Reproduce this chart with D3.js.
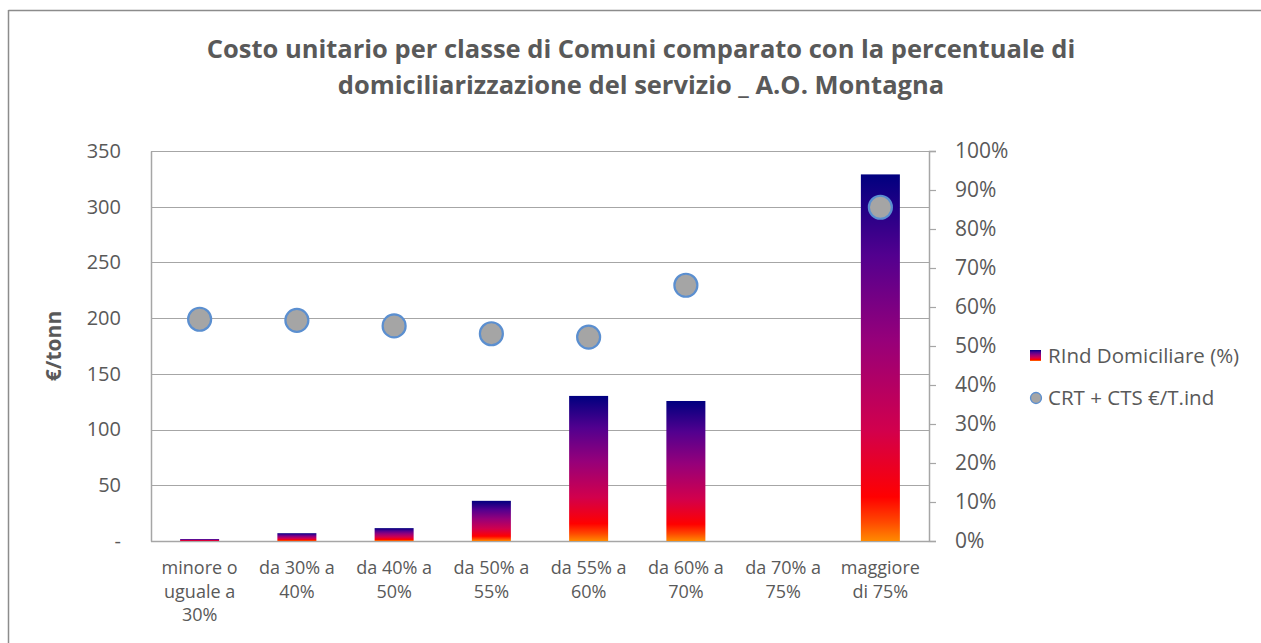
<!DOCTYPE html>
<html>
<head>
<meta charset="utf-8">
<script src="https://cdn.jsdelivr.net/npm/d3@7"></script>
<style>
  html, body { margin: 0; padding: 0; background: #fff; }
  svg { display: block; }
  text { font-family: "Open Sans", "Noto Sans", sans-serif; fill: #595959; }
</style>
</head>
<body>
<svg id="chart" width="1261" height="643"></svg>
<script>
// Municipality classes by share of door-to-door collection
const categories = [
  ["minore o", "uguale a", "30%"],
  ["da 30% a", "40%"],
  ["da 40% a", "50%"],
  ["da 50% a", "55%"],
  ["da 55% a", "60%"],
  ["da 60% a", "70%"],
  ["da 70% a", "75%"],
  ["maggiore", "di 75%"]
];
// RInd Domiciliare (%) — bars on the right axis
const domiciliare = [0.5, 2.0, 3.3, 10.3, 37.2, 35.9, 0, 94.0];
// CRT + CTS €/T.ind — points on the left axis (null = no data)
const costo = [199, 198, 193, 186, 183, 229.5, null, 299.5];

const leftTicks = [0, 50, 100, 150, 200, 250, 300, 350];
const rightTicks = [0, 10, 20, 30, 40, 50, 60, 70, 80, 90, 100];

const titleLines = [
  "Costo unitario per classe di Comuni comparato con la percentuale di",
  "domiciliarizzazione  del servizio _ A.O. Montagna"
];
const seriesNames = ["RInd Domiciliare (%)", "CRT + CTS €/T.ind"];

const svg = d3.select("#chart");
const plot = { left: 151, right: 929, top: 151, bottom: 541 };

// chart frame (top and left edges)
svg.append("line").attr("x1", 8.5).attr("x2", 1261).attr("y1", 10.5).attr("y2", 10.5)
  .attr("stroke", "#8c8c8c").attr("stroke-width", 1.5);
svg.append("line").attr("x1", 8.5).attr("x2", 8.5).attr("y1", 10).attr("y2", 643)
  .attr("stroke", "#8c8c8c").attr("stroke-width", 1.5);

// gradient for the bars
const defs = svg.append("defs");
const grad = defs.append("linearGradient").attr("id", "fire")
  .attr("x1", 0).attr("y1", 1).attr("x2", 0).attr("y2", 0);
[
  [0.00, "#ff8a00"],
  [0.05, "#ff4a00"],
  [0.12, "#ff0000"],
  [0.30, "#d2004c"],
  [0.55, "#96007a"],
  [0.78, "#52008f"],
  [1.00, "#00007f"]
].forEach(([o, c]) => grad.append("stop").attr("offset", o).attr("stop-color", c));

const x = d3.scaleBand().domain(d3.range(categories.length))
  .range([plot.left, plot.right]).paddingInner(0).paddingOuter(0);
const yL = d3.scaleLinear().domain([0, 350]).range([plot.bottom, plot.top]);
const yR = d3.scaleLinear().domain([0, 100]).range([plot.bottom, plot.top]);

// gridlines
svg.append("g").selectAll("line").data(leftTicks.slice(1)).join("line")
  .attr("x1", plot.left).attr("x2", plot.right)
  .attr("y1", d => Math.round(yL(d)) + 0.5).attr("y2", d => Math.round(yL(d)) + 0.5)
  .attr("stroke", "#a6a6a6").attr("stroke-width", 1.2);

// left axis
const axL = svg.append("g").attr("transform", `translate(${plot.left},0)`)
  .call(d3.axisLeft(yL).tickValues(leftTicks).tickSize(0).tickPadding(30)
    .tickFormat(d => d === 0 ? "-" : d));
axL.select(".domain").attr("stroke", "#a6a6a6").attr("stroke-width", 1.5);
axL.selectAll("text").style("font-size", "20px").attr("fill", "#595959")
  .style("font-family", "'Open Sans', sans-serif");

// right axis
const axR = svg.append("g").attr("transform", `translate(${plot.right},0)`)
  .call(d3.axisRight(yR).tickValues(rightTicks).tickSize(7).tickPadding(19)
    .tickFormat(d => d + "%"));
axR.select(".domain").attr("stroke", "#a6a6a6").attr("stroke-width", 1.5);
axR.selectAll(".tick line").attr("stroke", "#a6a6a6").attr("stroke-width", 1.2);
axR.selectAll("text").style("font-size", "21px").attr("fill", "#595959")
  .style("font-family", "'Open Sans', sans-serif");

// bottom axis line
svg.append("line").attr("x1", plot.left).attr("x2", plot.right)
  .attr("y1", plot.bottom + 0.5).attr("y2", plot.bottom + 0.5)
  .attr("stroke", "#a6a6a6").attr("stroke-width", 1.5);

// bars
const barW = 39;
svg.append("g").selectAll("rect")
  .data(domiciliare.map((v, i) => ({ v, i })).filter(d => d.v > 0)).join("rect")
  .attr("x", d => x(d.i) + x.bandwidth() / 2 - barW / 2)
  .attr("y", d => yR(d.v))
  .attr("width", barW)
  .attr("height", d => yR(0) - yR(d.v))
  .attr("fill", "url(#fire)");

// points
svg.append("g").selectAll("circle")
  .data(costo.map((v, i) => ({ v, i })).filter(d => d.v !== null)).join("circle")
  .attr("cx", d => x(d.i) + x.bandwidth() / 2)
  .attr("cy", d => yL(d.v))
  .attr("r", 11.5)
  .attr("fill", "#a5a5a5")
  .attr("stroke", "#5b8fd0")
  .attr("stroke-width", 2.2);

// category labels
const catG = svg.append("g");
categories.forEach((lines, i) => {
  const t = catG.append("text")
    .attr("x", x(i) + x.bandwidth() / 2)
    .attr("y", 574)
    .attr("text-anchor", "middle")
    .style("font-size", "18px");
  lines.forEach((s, j) => t.append("tspan")
    .attr("x", x(i) + x.bandwidth() / 2).attr("dy", j === 0 ? 0 : 23.5).text(s));
});

// title
titleLines.forEach((s, i) => {
  svg.append("text").attr("x", 641).attr("y", 58 + i * 36)
    .attr("text-anchor", "middle")
    .style("font-size", "25.5px").style("font-weight", "bold")
    .attr("fill", "#404040").text(s);
});

// left axis title
svg.append("text")
  .attr("transform", "translate(61,346) rotate(-90)")
  .attr("text-anchor", "middle")
  .style("font-size", "21px").style("font-weight", "bold")
  .attr("fill", "#262626").text("€/tonn");

// legend
const lg = svg.append("g");
lg.append("rect").attr("x", 1030).attr("y", 350).attr("width", 11).attr("height", 11)
  .attr("fill", "url(#fire)");
lg.append("text").attr("x", 1048).attr("y", 363).style("font-size", "20.5px")
  .text(seriesNames[0]);
lg.append("circle").attr("cx", 1036).attr("cy", 398).attr("r", 5.5)
  .attr("fill", "#a5a5a5").attr("stroke", "#5b8fd0").attr("stroke-width", 1.3);
lg.append("text").attr("x", 1048).attr("y", 405).style("font-size", "20.5px")
  .text(seriesNames[1]);
</script>
</body>
</html>
